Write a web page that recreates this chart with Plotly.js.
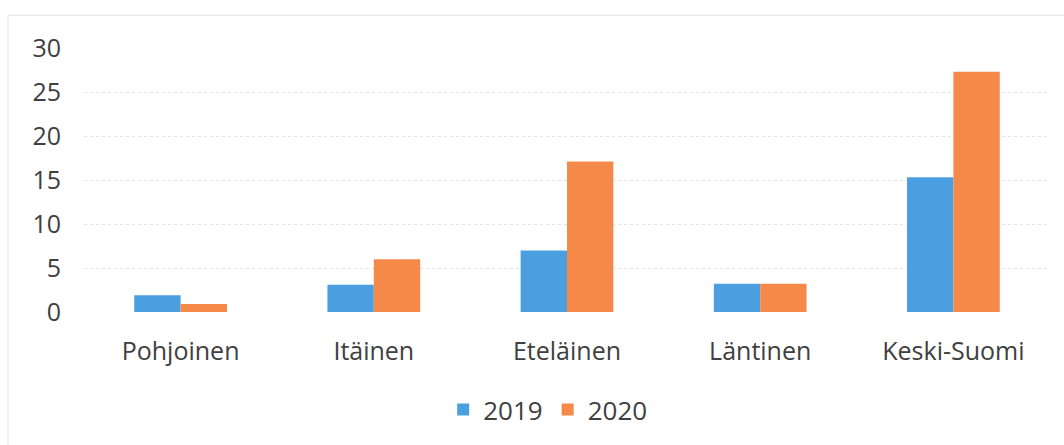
<!DOCTYPE html>
<html><head><meta charset="utf-8">
<script src="https://cdn.plot.ly/plotly-3.0.1.min.js"></script>
<style>html,body{margin:0;padding:0;background:#fff}#chart{width:1064px;height:445px}</style>
</head><body><div id="chart"></div>
<script>
const categories = ['Pohjoinen', 'Itäinen', 'Eteläinen', 'Läntinen', 'Keski-Suomi'];
const series2019 = [1.9, 3.1, 7.0, 3.2, 15.3];
const series2020 = [0.9, 6.0, 17.1, 3.2, 27.3];
const yTicks = [0, 5, 10, 15, 20, 25, 30];

const font = {family: '"Open Sans", sans-serif', size: 25, color: '#404040'};
const legendFont = {family: '"Open Sans", sans-serif', size: 26, color: '#404040'};
const data = [
  {type: 'bar', name: '2019', x: categories, y: series2019, marker: {color: '#4b9fe0'}},
  {type: 'bar', name: '2020', x: categories, y: series2020, marker: {color: '#f5894a'}}
];
const layout = {
  width: 1064, height: 445,
  margin: {l: 84, r: 14, t: 48, b: 130},
  paper_bgcolor: '#fff', plot_bgcolor: '#fff',
  barmode: 'group', bargap: 0.52, bargroupgap: 0,
  font: font,
  showlegend: true,
  legend: {orientation: 'h', x: 0.48, xanchor: 'center', y: -0.37, yanchor: 'middle', font: legendFont, traceorder: 'normal', itemwidth: 30},
  xaxis: {type: 'category', showgrid: false, zeroline: false, showline: false, ticks: '', ticklabelstandoff: 22, tickfont: font},
  yaxis: {range: [0, 30], tickvals: yTicks, showgrid: true, gridcolor: '#e3e3e3', gridwidth: 1, griddash: 'dot', zeroline: false, showline: false, ticks: '', ticklabelstandoff: 22, tickfont: font},
  shapes: [
    {type: 'rect', xref: 'paper', yref: 'paper', x0: -0.0787, x1: 1.05, y0: -0.7, y1: 1.124, line: {color: '#e4e4e4', width: 1}}
  ]
};
Plotly.newPlot('chart', data, layout, {displayModeBar: false, staticPlot: true});
</script></body></html>
